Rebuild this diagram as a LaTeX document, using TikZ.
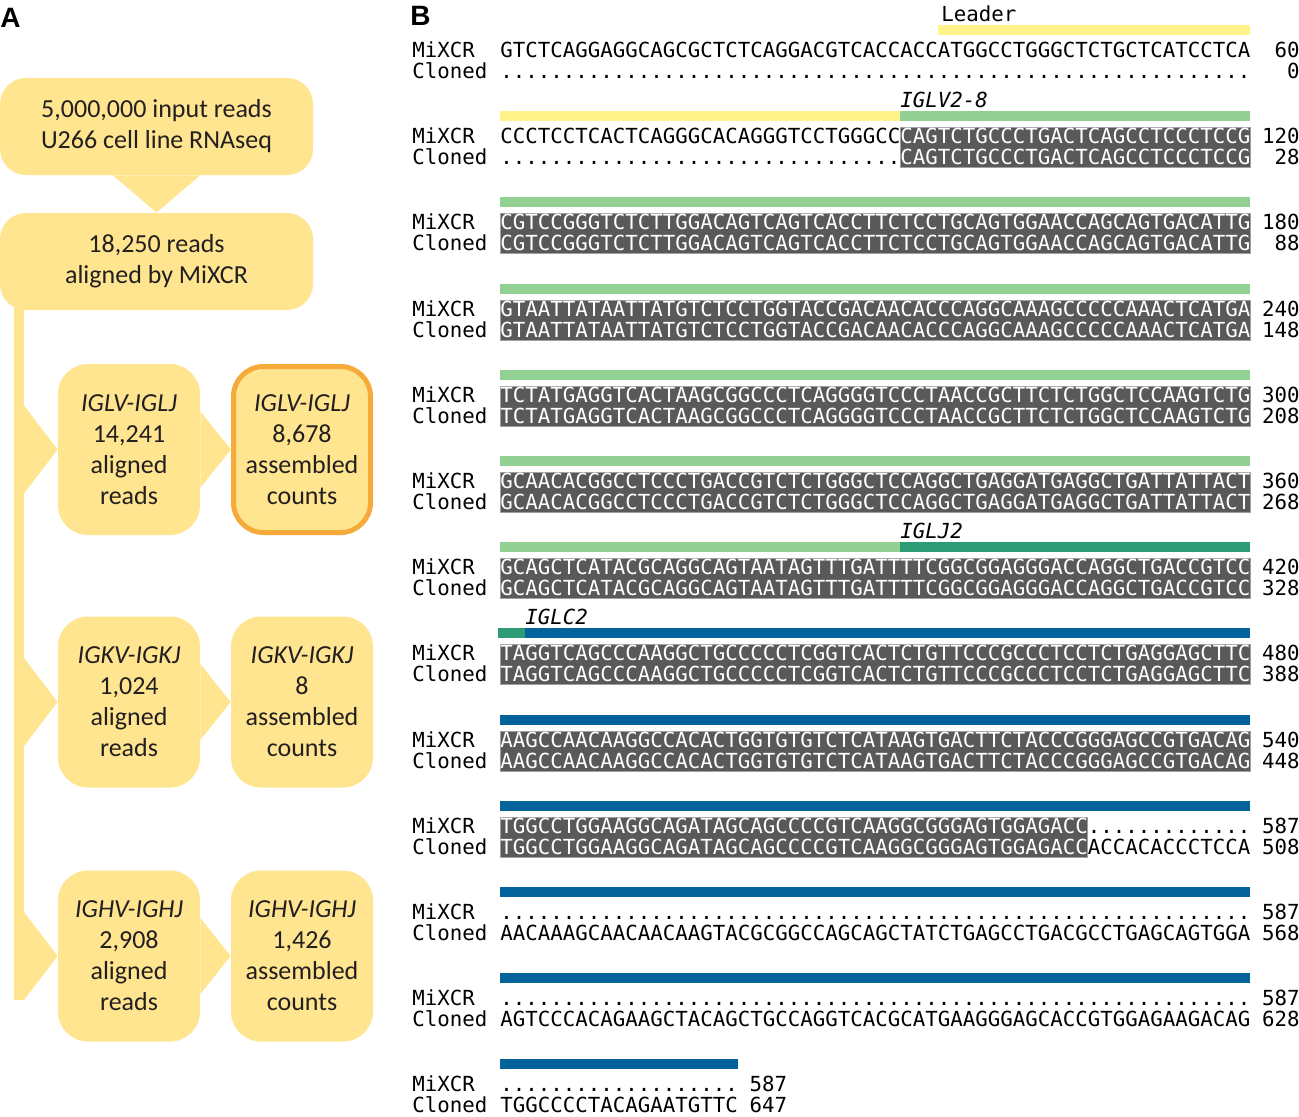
\documentclass[tikz,border=0pt]{standalone}
\usepackage{fontspec}
\setmainfont{Carlito}
\newfontfamily\seqfont{DejaVu Sans Mono}
\newfontfamily\panelfont{Liberation Sans}
\usetikzlibrary{backgrounds}

\definecolor{boxyellow}{RGB}{255,229,143}
\definecolor{boxorange}{RGB}{246,170,58}
\definecolor{inktext}{RGB}{35,31,32}
\definecolor{leaderyellow}{RGB}{255,243,138}
\definecolor{vgreen}{RGB}{147,208,147}
\definecolor{jgreen}{RGB}{45,155,118}
\definecolor{cblue}{RGB}{4,99,154}
\definecolor{hitgray}{RGB}{88,89,91}
\definecolor{hitedge}{RGB}{160,160,160}

\tikzset{
  flow/.style={fill=boxyellow},
  stepbox/.style={flow, rounded corners=13pt, minimum width=156.5pt, minimum height=48.5pt,
    inner sep=0pt, align=center, text=inktext, font=\fontsize{13}{15.5}\selectfont},
  genebox/.style={flow, rounded corners=15pt, minimum width=71pt, minimum height=85.5pt,
    inner sep=0pt, align=center, text=inktext, font=\fontsize{13}{15.5}\selectfont},
  picked/.style={draw=boxorange, line width=2.5pt, minimum width=68.5pt, minimum height=83pt},
  panel/.style={anchor=base west, inner sep=0pt, font=\panelfont\bfseries\fontsize{14}{14}\selectfont},
  seqtext/.style={anchor=base west, inner sep=0pt, text=black, font=\seqfont\fontsize{10.38}{12}\selectfont},
  hittext/.style={seqtext, text=white},
  seqnum/.style={seqtext, anchor=base east},
  genename/.style={seqtext, font=\seqfont\itshape\fontsize{10.38}{12}\selectfont},
  hit/.style={fill=hitgray, draw=hitedge, line width=0.4pt},
}

\begin{document}
\begin{tikzpicture}[x=0.5pt,y=-0.5pt]
\useasboundingbox (0,0) rectangle (1299,1116);
\node[panel] (pa) at (0,27) {A};
\node[panel] (pb) at (410,25) {B};

% panel A: the flow chart
\node[stepbox] (input) at (156.5,126.5) {5,000,000 input reads\\U266 cell line RNAseq};
\node[stepbox] (mixcr) at (156.5,261.5) {18,250 reads\\aligned by MiXCR};
\node[genebox] (lam) at (129,449.5) {\textit{IGLV-IGLJ}\\14,241\\aligned\\reads};
\node[genebox,picked] (lamc) at (302,449.5) {\textit{IGLV-IGLJ}\\8,678\\assembled\\counts};
\node[genebox] (kap) at (129,702) {\textit{IGKV-IGKJ}\\1,024\\aligned\\reads};
\node[genebox] (kapc) at (302,702) {\textit{IGKV-IGKJ}\\8\\assembled\\counts};
\node[genebox] (hvy) at (129,956) {\textit{IGHV-IGHJ}\\2,908\\aligned\\reads};
\node[genebox] (hvyc) at (302,956) {\textit{IGHV-IGHJ}\\1,426\\assembled\\counts};
\coordinate (trunktop) at (14,295);
\coordinate (trunkend) at (24,1000);
\begin{scope}[on background layer]
\fill[flow] ([xshift=-21.75pt]input.south) -- (mixcr.north) -- ([xshift=21.75pt]input.south) -- cycle;
\fill[flow] (trunktop) rectangle (trunkend);
\foreach \a/\b in {lam/lamc,kap/kapc,hvy/hvyc} % edit here for the branches
{
  \fill[flow] ([yshift=22pt]\a.west -| trunkend) -- (\a.west) -- ([yshift=-22pt]\a.west -| trunkend) -- cycle;
  \fill[flow] ([yshift=19pt]\a.east) -- (\b.west) -- ([yshift=-19pt]\a.east) -- cycle;
}
\end{scope}

% panel B: the alignment
\foreach \y in {50,136,222,309,395,481,567,653,740,826,912,998,1084} % edit here for the row names
{
  \node[seqtext] (mx\y) at (412,{\y+7.5}) {MiXCR};
  \node[seqtext] (cl\y) at (412,{\y+28.5}) {Cloned};
}
% segment bars
\fill[leaderyellow] (937.5,25) rectangle (1250,35);
\node[seqtext] (leader) at (941,21) {Leader};
\fill[leaderyellow] (500,111) rectangle (900,121);
\fill[vgreen] (900,111) rectangle (1250,121);
\node[genename] (vgene) at (900,107) {IGLV2-8};
\foreach \y in {222,309,395,481} % edit here for the green bars
\fill[vgreen] (500,{\y-25}) rectangle (1250,{\y-15});
\fill[vgreen] (500,542) rectangle (900,552);
\fill[jgreen] (900,542) rectangle (1250,552);
\node[genename] (jgene) at (900,538) {IGLJ2};
\fill[jgreen] (498,628) rectangle (525,638);
\fill[cblue] (525,628) rectangle (1250,638);
\node[genename] (cgene) at (525,624) {IGLC2};
\foreach \y in {740,826,912,998} % edit here for the blue bars
\fill[cblue] (500,{\y-25}) rectangle (1250,{\y-15});
\fill[cblue] (500,1059) rectangle (737.5,1069);

% row 1
\node[seqtext] (m50) at (500,57.5) {GTCTCAGGAGGCAGCGCTCTCAGGACGTCACCACCATGGCCTGGGCTCTGCTCATCCTCA};
\node[seqtext] (c50) at (500,78.5) {............................................................};
\node[seqnum] (nm50) at (1300,57.5) {60};
\node[seqnum] (nc50) at (1300,78.5) {0};
% row 2
\filldraw[hit] (900,127) rectangle (1250,167);
\node[seqtext] (m136) at (500,143.5) {CCCTCCTCACTCAGGGCACAGGGTCCTGGGCC};
\node[hittext] (mh136) at (900,143.5) {CAGTCTGCCCTGACTCAGCCTCCCTCCG};
\node[seqtext] (c136) at (500,164.5) {................................};
\node[hittext] (ch136) at (900,164.5) {CAGTCTGCCCTGACTCAGCCTCCCTCCG};
\node[seqnum] (nm136) at (1300,143.5) {120};
\node[seqnum] (nc136) at (1300,164.5) {28};
% rows 3 to 9, both reads the same
\foreach \y/\s/\a/\b in {
  222/CGTCCGGGTCTCTTGGACAGTCAGTCACCTTCTCCTGCAGTGGAACCAGCAGTGACATTG/180/88,
  309/GTAATTATAATTATGTCTCCTGGTACCGACAACACCCAGGCAAAGCCCCCAAACTCATGA/240/148,
  395/TCTATGAGGTCACTAAGCGGCCCTCAGGGGTCCCTAACCGCTTCTCTGGCTCCAAGTCTG/300/208,
  481/GCAACACGGCCTCCCTGACCGTCTCTGGGCTCCAGGCTGAGGATGAGGCTGATTATTACT/360/268,
  567/GCAGCTCATACGCAGGCAGTAATAGTTTGATTTTCGGCGGAGGGACCAGGCTGACCGTCC/420/328,
  653/TAGGTCAGCCCAAGGCTGCCCCCTCGGTCACTCTGTTCCCGCCCTCCTCTGAGGAGCTTC/480/388,
  740/AAGCCAACAAGGCCACACTGGTGTGTCTCATAAGTGACTTCTACCCGGGAGCCGTGACAG/540/448}
{
  \filldraw[hit] (500,{\y-9}) rectangle (1250,{\y+31});
  \node[hittext] (m\y) at (500,{\y+7.5}) {\s};
  \node[hittext] (c\y) at (500,{\y+28.5}) {\s};
  \node[seqnum] (nm\y) at (1300,{\y+7.5}) {\a};
  \node[seqnum] (nc\y) at (1300,{\y+28.5}) {\b};
}
% row 10
\filldraw[hit] (500,817) rectangle (1087.5,857);
\node[hittext] (m826) at (500,833.5) {TGGCCTGGAAGGCAGATAGCAGCCCCGTCAAGGCGGGAGTGGAGACC};
\node[seqtext] (mt826) at (1087.5,833.5) {.............};
\node[hittext] (c826) at (500,854.5) {TGGCCTGGAAGGCAGATAGCAGCCCCGTCAAGGCGGGAGTGGAGACC};
\node[seqtext] (ct826) at (1087.5,854.5) {ACCACACCCTCCA};
\node[seqnum] (nm826) at (1300,833.5) {587};
\node[seqnum] (nc826) at (1300,854.5) {508};
% rows 11 and 12
\foreach \y/\s/\b in {
  912/AACAAAGCAACAACAAGTACGCGGCCAGCAGCTATCTGAGCCTGACGCCTGAGCAGTGGA/568,
  998/AGTCCCACAGAAGCTACAGCTGCCAGGTCACGCATGAAGGGAGCACCGTGGAGAAGACAG/628}
{
  \node[seqtext] (m\y) at (500,{\y+7.5}) {............................................................};
  \node[seqtext] (c\y) at (500,{\y+28.5}) {\s};
  \node[seqnum] (nm\y) at (1300,{\y+7.5}) {587};
  \node[seqnum] (nc\y) at (1300,{\y+28.5}) {\b};
}
% row 13
\node[seqtext] (m1084) at (500,1091.5) {...................};
\node[seqtext] (c1084) at (500,1112.5) {TGGCCCCTACAGAATGTTC};
\node[seqnum] (nm1084) at (787.5,1091.5) {587};
\node[seqnum] (nc1084) at (787.5,1112.5) {647};
\end{tikzpicture}
\end{document}
